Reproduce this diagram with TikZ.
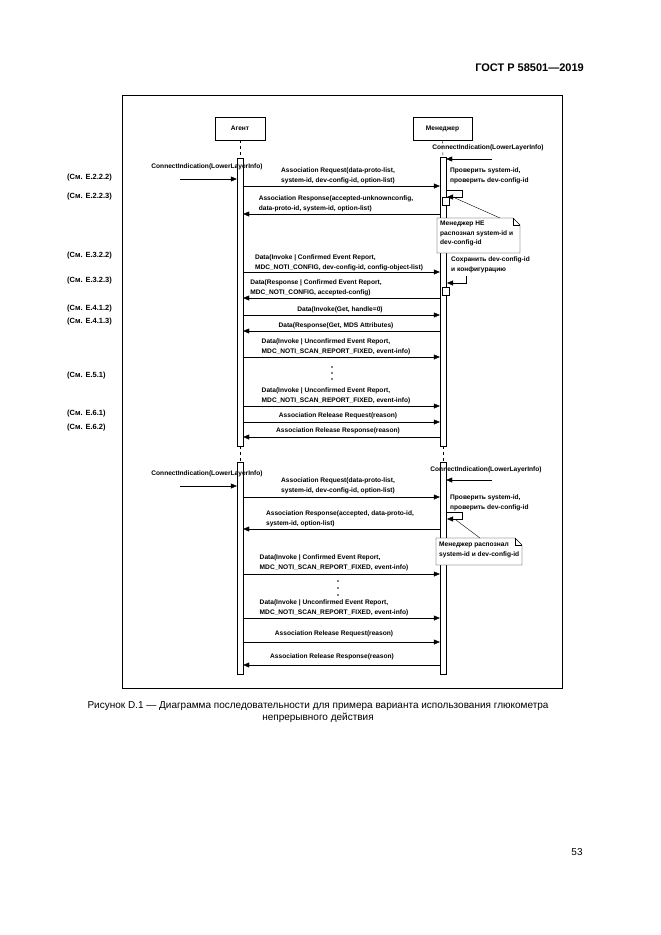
\documentclass[tikz,border=0pt]{standalone}
\usepackage{fontspec}
\setmainfont{Liberation Sans}
\usetikzlibrary{arrows.meta,shapes.misc}
\begin{document}
\begin{tikzpicture}[x=1pt,y=-1pt,
  every node/.style={inner sep=0pt,font=\fontsize{6.6}{9.5}\selectfont\bfseries},
  lbl/.style={align=left,anchor=south},
  box/.style={draw,thick,minimum width=50pt,minimum height=23pt},
  bar/.style={draw,fill=white,minimum width=6pt,anchor=north},
  msg/.style={-{Triangle[length=6pt,width=5pt]}},
  life/.style={dashed},
  ref/.style={anchor=west,font=\fontsize{7.5}{8.5}\selectfont\bfseries},
  note/.style={align=left,anchor=north west}]
\useasboundingbox (0,0) rectangle (661,935);
\node[font=\fontsize{11}{12}\selectfont\bfseries,anchor=east] (hdr) at (584,68) {ГОСТ Р 58501—2019};
\draw (122,95) rectangle (562,688);
\node[box] (ag) at (240,128.5) {Агент};
\node[box,minimum width=59pt] (mg) at (442.5,128.5) {Менеджер};
% lifelines
\draw[life] (ag.south) -- (240,158);
\draw[life] (mg.south) -- (443,157);
\node[bar,minimum height=288pt] (ab1) at (240,158) {};
\node[bar,minimum height=289pt] (mb1) at (443,157) {};
\draw[life] (ab1.south) -- (240,462);
\draw[life] (mb1.south) -- (443,462);
\node[bar,minimum height=212pt] (ab2) at (240,462) {};
\node[bar,minimum height=212pt] (mb2) at (443,462) {};
% refs
\foreach \t/\y in {E.2.2.2/178,E.2.2.3/197,E.3.2.2/256,E.3.2.3/281,E.4.1.2/309,E.4.1.3/322,E.5.1/376,E.6.1/414,E.6.2/428}
  \node[ref] at (67,\y) {(См. \t)};
% ---- first session
\node (ci1) at (207,167) {ConnectIndication(LowerLayerInfo)};
\coordinate (ci1s) at (180,179);
\draw[msg] (ci1s) -- (ab1.west|-ci1s);
\node (ci2) at (488,148) {ConnectIndication(LowerLayerInfo)};
\coordinate (ci2s) at (492,159);
\draw[msg] (ci2s) -- (mb1.east|-ci2s);
\node[lbl] (m1) at (338,184) {Association Request(data-proto-list,\\system-id, dev-config-id, option-list)};
\draw[msg] (ab1.east|-0,186) -- (mb1.west|-0,186);
\node[note] (n1) at (450,168) {Проверить system-id,\\ проверить dev-config-id};
\draw[msg] (446,190) -- (462,190) -- (462,197) -- (447,197);
\node[draw,fill=white,minimum width=7pt,minimum height=8pt] (sb1) at (446,201) {};
\node[lbl] (m2) at (336,212) {Association Response(accepted-unknownconfig,\\data-proto-id, system-id, option-list)};
\draw[msg] (mb1.west|-0,214) -- (ab1.east|-0,214);
\draw[fill=white] (437,218) -- (513,218) -- (520,225) -- (520,253) -- (437,253) -- cycle;
\draw (513,218) -- (513,225) -- (520,225);
\node[note] (nb1) at (440,221) {Менеджер НЕ\\распознал system-id и\\dev-config-id};
\draw (455,198) -- (500,218);
\node[lbl] (m3) at (339,271) {Data(Invoke | Confirmed Event Report,\\MDC\_NOTI\_CONFIG, dev-config-id, config-object-list)};
\draw[msg] (ab1.east|-0,272) -- (mb1.west|-0,272);
\node[note] (n2) at (451,257) {Сохранить dev-config-id\\ и конфигурацию};
\draw[msg] (466,276) -- (466,283) -- (447,283);
\node[draw,fill=white,minimum width=7pt,minimum height=8pt] (sb2) at (446,291) {};
\node[lbl] (m4) at (316,296) {Data(Response | Confirmed Event Report,\\MDC\_NOTI\_CONFIG, accepted-config)};
\draw[msg] (mb1.west|-0,298) -- (ab1.east|-0,298);
\node[lbl] (m5) at (340,313) {Data(Invoke(Get, handle=0)};
\draw[msg] (ab1.east|-0,315) -- (mb1.west|-0,315);
\node[lbl] (m6) at (336,329) {Data(Response(Get, MDS Attributes)};
\draw[msg] (mb1.west|-0,331) -- (ab1.east|-0,331);
\node[lbl] (m7) at (336,355) {Data(Invoke | Unconfirmed Event Report,\\MDC\_NOTI\_SCAN\_REPORT\_FIXED, event-info)};
\draw[msg] (ab1.east|-0,357) -- (mb1.west|-0,357);
\foreach \y in {367,373,379} \fill (332,\y) circle (0.9);
\node[lbl] (m8) at (336,404) {Data(Invoke | Unconfirmed Event Report,\\MDC\_NOTI\_SCAN\_REPORT\_FIXED, event-info)};
\draw[msg] (ab1.east|-0,406) -- (mb1.west|-0,406);
\node[lbl] (m9) at (338,419) {Association Release Request(reason)};
\draw[msg] (ab1.east|-0,422) -- (mb1.west|-0,422);
\node[lbl] (m10) at (338,434) {Association Release Response(reason)};
\draw[msg] (mb1.west|-0,437) -- (ab1.east|-0,437);
% ---- second session
\node (ci3) at (207,474) {ConnectIndication(LowerLayerInfo)};
\coordinate (ci3s) at (180,486);
\draw[msg] (ci3s) -- (ab2.west|-ci3s);
\node (ci4) at (486,470) {ConnectIndication(LowerLayerInfo)};
\coordinate (ci4s) at (492,480);
\draw[msg] (ci4s) -- (mb2.east|-ci4s);
\node[lbl] (s1) at (338,494) {Association Request(data-proto-list,\\system-id, dev-config-id, option-list)};
\draw[msg] (ab2.east|-0,497) -- (mb2.west|-0,497);
\node[note] (n3) at (450,495) {Проверить system-id,\\ проверить dev-config-id};
\draw[msg] (446,512) -- (462,512) -- (462,519) -- (447,519);
\node[lbl] (s2) at (340,527) {Association Response(accepted, data-proto-id,\\system-id, option-list)};
\draw[msg] (mb2.west|-0,529) -- (ab2.east|-0,529);
\draw[fill=white] (436,538) -- (515,538) -- (522,545) -- (522,565) -- (436,565) -- cycle;
\draw (515,538) -- (515,545) -- (522,545);
\node[note] (nb2) at (439,542) {Менеджер распознал\\system-id и dev-config-id};
\draw (456,520) -- (480,538);
\node[lbl] (s3) at (334,571) {Data(Invoke | Confirmed Event Report,\\MDC\_NOTI\_SCAN\_REPORT\_FIXED, event-info)};
\draw[msg] (ab2.east|-0,574) -- (mb2.west|-0,574);
\foreach \y in {581,588,595} \fill (338,\y) circle (0.9);
\node[lbl] (s4) at (334,616) {Data(Invoke | Unconfirmed Event Report,\\MDC\_NOTI\_SCAN\_REPORT\_FIXED, event-info)};
\draw[msg] (ab2.east|-0,618) -- (mb2.west|-0,618);
\node[lbl] (s5) at (334,637) {Association Release Request(reason)};
\draw[msg] (ab2.east|-0,642) -- (mb2.west|-0,642);
\node[lbl] (s6) at (332,660) {Association Release Response(reason)};
\draw[msg] (mb2.west|-0,665) -- (ab2.east|-0,665);
% caption
\node[align=center,font=\fontsize{10}{12}\selectfont] (cap) at (318,712) {Рисунок D.1 — Диаграмма последовательности для примера варианта использования глюкометра\\непрерывного действия};
\node[font=\fontsize{10}{11}\selectfont] (pg) at (577,852) {53};
\end{tikzpicture}
\end{document}
